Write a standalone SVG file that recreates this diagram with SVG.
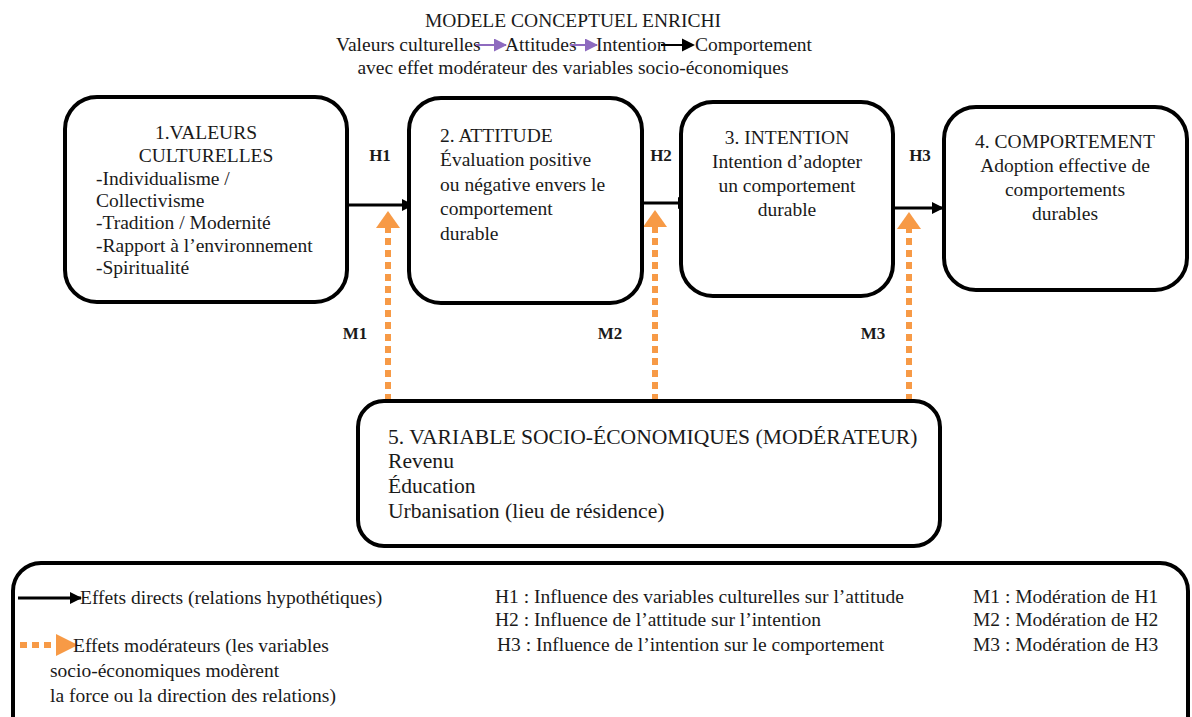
<svg xmlns="http://www.w3.org/2000/svg" width="1192" height="717" viewBox="0 0 1192 717">
<defs>
<style>
text{font-family:"Liberation Serif","Times New Roman",serif;fill:#1a1a1a;}
.t{font-size:19.5px;}
.b{font-size:19.5px;}
.v{font-size:21.6px;}
.h{font-size:17px;font-weight:bold;}
.box{fill:#fff;stroke:#000;stroke-width:4;}
.arr{stroke:#000;stroke-width:3;fill:none;}
.mod{stroke:#F79A46;stroke-width:6;stroke-dasharray:7 5;fill:none;}
.c{text-anchor:middle;}
</style>
<marker id="ah" markerWidth="12" markerHeight="12" refX="11" refY="6" orient="auto" markerUnits="userSpaceOnUse">
<path d="M0,0 L12,6 L0,12 Z" fill="#000"/>
</marker>
<marker id="ahp" markerWidth="13" markerHeight="13" refX="12" refY="6.5" orient="auto" markerUnits="userSpaceOnUse">
<path d="M0,0 L13,6.5 L0,13 Z" fill="#8E6BBF"/>
</marker>
</defs>
<rect width="1192" height="717" fill="#fff"/>

<g id="title">
<text class="b c" x="573" y="27">MODELE CONCEPTUEL ENRICHI</text>
<text class="b" x="336" y="51">Valeurs culturelles</text>
<line x1="476" y1="45" x2="506" y2="45" stroke="#8E6BBF" stroke-width="2" marker-end="url(#ahp)"/>
<text class="b" x="505" y="51">Attitudes</text>
<line x1="570" y1="45" x2="597" y2="45" stroke="#8E6BBF" stroke-width="2" marker-end="url(#ahp)"/>
<text class="b" x="596" y="51">Intention</text>
<line x1="661" y1="45" x2="683" y2="45" stroke="#000" stroke-width="2"/>
<path d="M682,38.5 L695,45 L682,51.5 Z" fill="#000"/>
<text class="b" x="695" y="51">Comportement</text>
<text class="b c" x="573" y="74">avec effet modérateur des variables socio-économiques</text>
</g>

<g id="connectors">
<line class="arr" x1="347" y1="205" x2="413" y2="205" marker-end="url(#ah)"/>
<line class="arr" x1="642" y1="203" x2="689" y2="203" marker-end="url(#ah)"/>
<line class="arr" x1="893" y1="208" x2="943" y2="208" marker-end="url(#ah)"/>
<line class="mod" x1="388" y1="401" x2="388" y2="228"/>
<path d="M376,228 L400,228 L388,211 Z" fill="#F79A46"/>
<line class="mod" x1="655" y1="401" x2="655" y2="227"/>
<path d="M643,227 L667,227 L655,210 Z" fill="#F79A46"/>
<line class="mod" x1="909" y1="401" x2="909" y2="229"/>
<path d="M897,229 L921,229 L909,212 Z" fill="#F79A46"/>
<text class="h c" x="380" y="161">H1</text>
<text class="h c" x="661" y="161">H2</text>
<text class="h c" x="920" y="161">H3</text>
<text class="h c" x="355" y="339">M1</text>
<text class="h c" x="610" y="339">M2</text>
<text class="h c" x="873" y="339">M3</text>
</g>

<g id="node1">
<rect class="box" x="65" y="97" width="282" height="205" rx="32"/>
<text class="b c" x="206" y="139">1.VALEURS</text>
<text class="b c" x="206" y="162">CULTURELLES</text>
<text class="b" x="96" y="185">-Individualisme /</text>
<text class="b" x="96" y="207">Collectivisme</text>
<text class="b" x="96" y="229">-Tradition / Modernité</text>
<text class="b" x="96" y="252">-Rapport à l’environnement</text>
<text class="b" x="96" y="274">-Spiritualité</text>
</g>

<g id="node2">
<rect class="box" x="409" y="98" width="233" height="205" rx="32"/>
<text class="b" x="440" y="142">2. ATTITUDE</text>
<text class="b" x="440" y="166">Évaluation positive</text>
<text class="b" x="440" y="191">ou négative envers le</text>
<text class="b" x="440" y="215">comportement</text>
<text class="b" x="440" y="240">durable</text>
</g>

<g id="node3">
<rect class="box" x="681" y="102" width="212" height="194" rx="32"/>
<text class="b c" x="787" y="144">3. INTENTION</text>
<text class="b c" x="787" y="168">Intention d’adopter</text>
<text class="b c" x="787" y="192">un comportement</text>
<text class="b c" x="787" y="216">durable</text>
</g>

<g id="node4">
<rect class="box" x="944" y="107" width="243" height="183" rx="32"/>
<text class="b c" x="1065" y="148">4. COMPORTEMENT</text>
<text class="b c" x="1065" y="172">Adoption effective de</text>
<text class="b c" x="1065" y="196">comportements</text>
<text class="b c" x="1065" y="220">durables</text>
</g>

<g id="node5">
<rect class="box" x="358" y="401" width="582" height="145" rx="26"/>
<text class="v" x="388" y="444">5. VARIABLE SOCIO-ÉCONOMIQUES (MODÉRATEUR)</text>
<text class="v" x="388" y="468">Revenu</text>
<text class="v" x="388" y="493">Éducation</text>
<text class="v" x="388" y="518">Urbanisation (lieu de résidence)</text>
</g>

<g id="legend">
<rect class="box" x="13" y="563" width="1175" height="190" rx="28"/>
<line class="arr" x1="18" y1="598" x2="81" y2="598" marker-end="url(#ah)"/>
<text class="t" x="80" y="604">Effets directs (relations hypothétiques)</text>
<line stroke="#F79A46" stroke-width="6" stroke-dasharray="7 5" x1="20" y1="645" x2="56" y2="645"/>
<path d="M56,634 L78,645 L56,656 Z" fill="#F79A46"/>
<text class="t" x="73" y="652">Effets modérateurs (les variables</text>
<text class="t" x="50" y="677">socio-économiques modèrent</text>
<text class="t" x="50" y="702"> la force ou la direction des relations)</text>
<text class="t" x="495" y="603">H1 : Influence des variables culturelles sur l’attitude</text>
<text class="t" x="495" y="626">H2 : Influence de l’attitude sur l’intention</text>
<text class="t" x="497" y="651">H3 : Influence de l’intention sur le comportement</text>
<text class="t" x="973" y="603">M1 : Modération de H1</text>
<text class="t" x="973" y="626">M2 : Modération de H2</text>
<text class="t" x="973" y="651">M3 : Modération de H3</text>
</g>
</svg>
